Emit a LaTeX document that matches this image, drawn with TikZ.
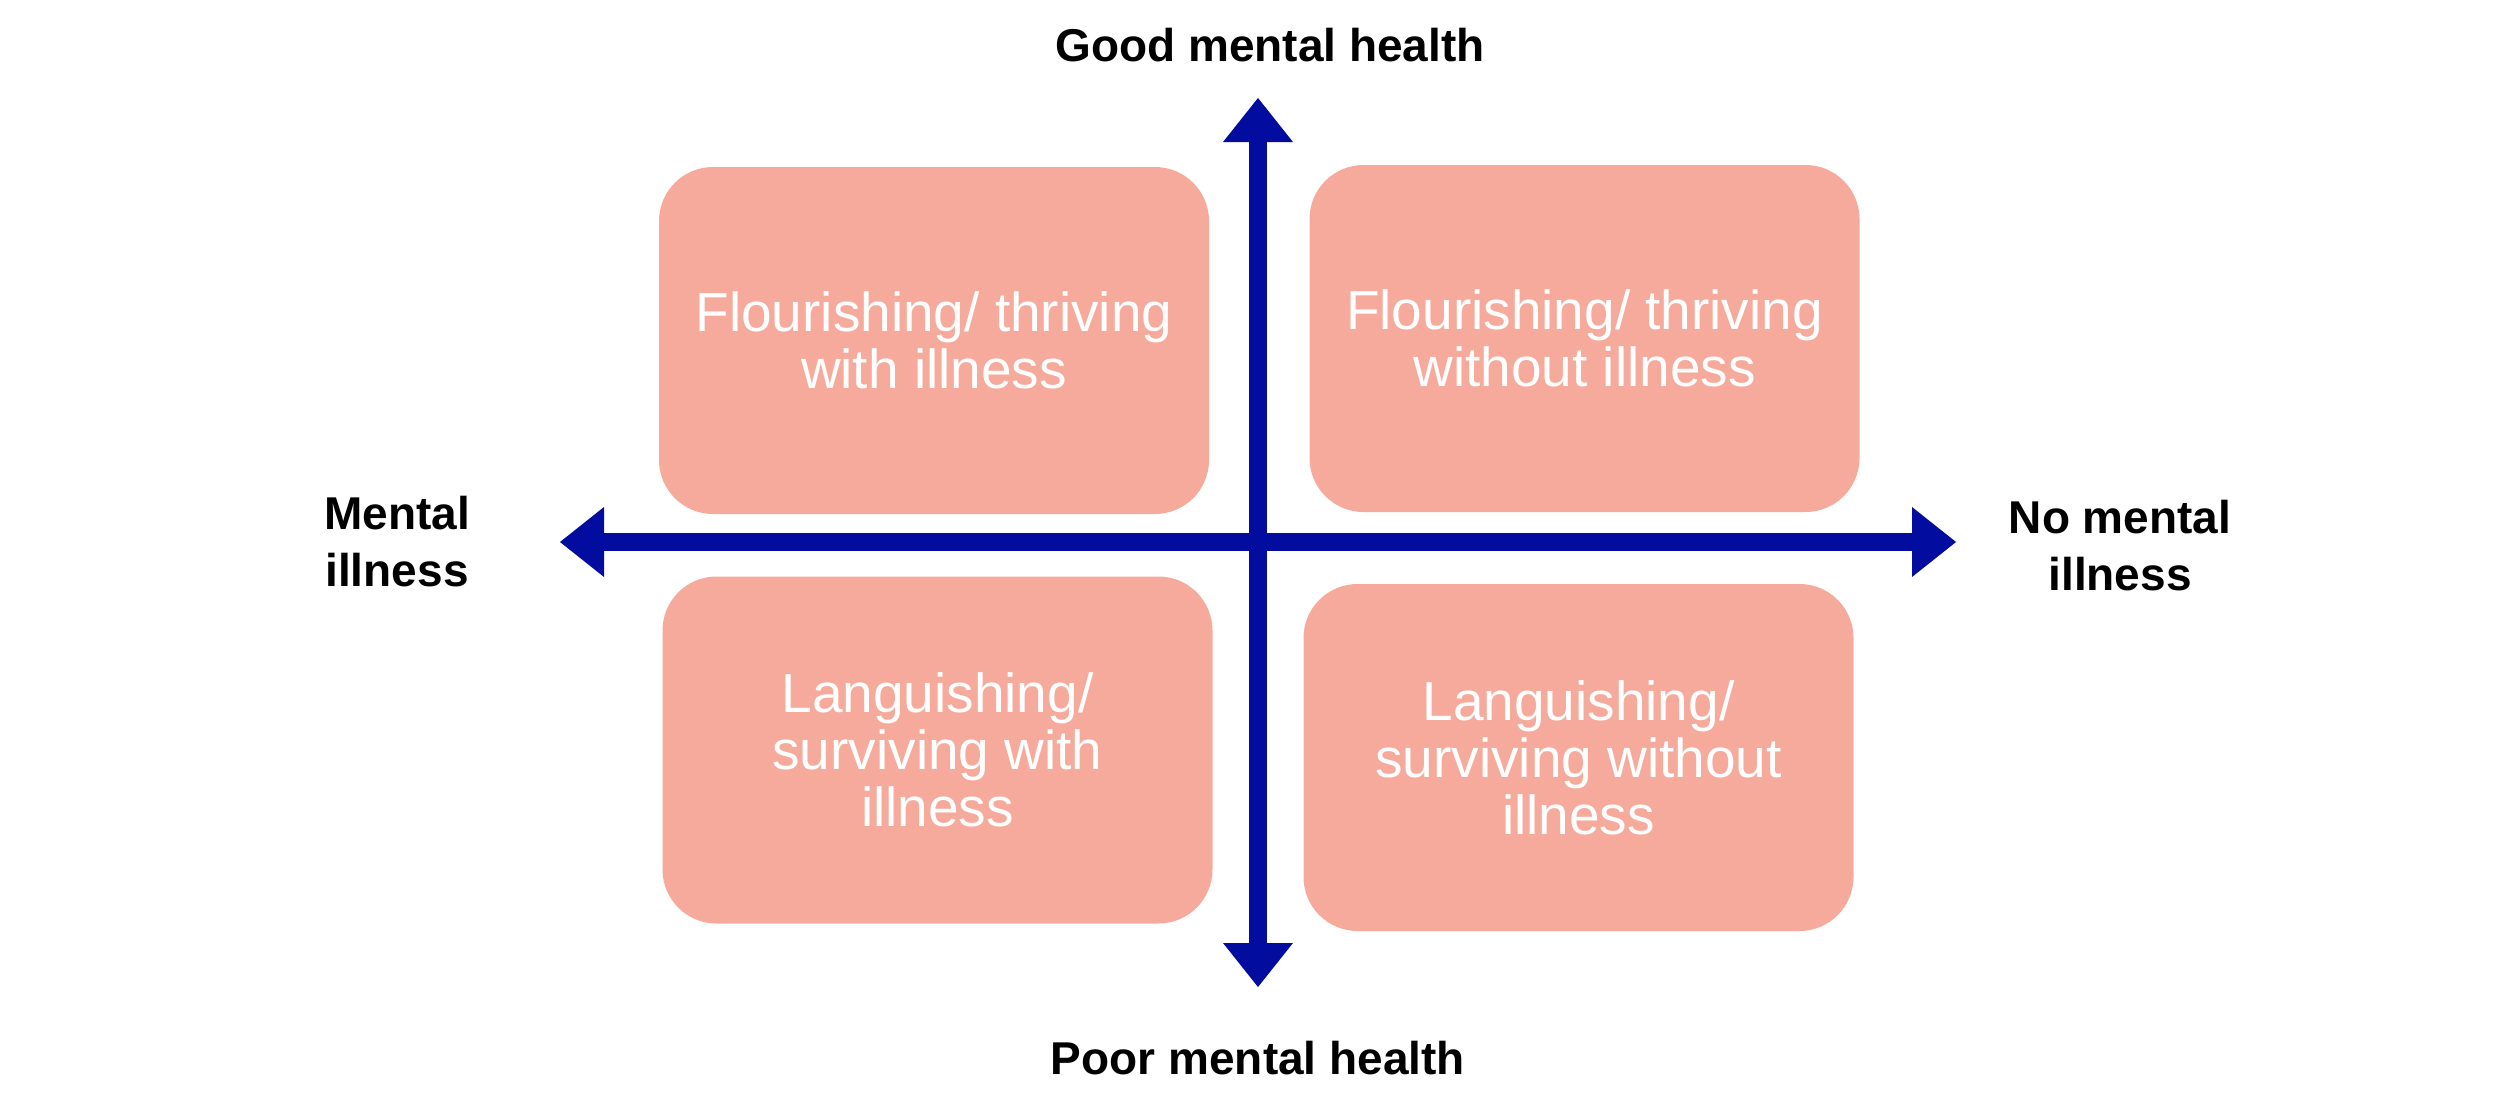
\documentclass[tikz,border=0pt]{standalone}
\usepackage{fontspec}
\setmainfont{Liberation Sans}
\usetikzlibrary{arrows.meta}
\definecolor{boxfill}{HTML}{F6AA9B}
\definecolor{axisblue}{HTML}{020D9F}
\begin{document}
\begin{tikzpicture}[x=1pt,y=-1pt,
  quad/.style={fill=boxfill, rounded corners=54pt, inner sep=0pt, align=center, text=white,
    minimum width=550pt, minimum height=347pt, font=\fontsize{55}{57}\selectfont},
  axislabel/.style={inner sep=0pt, align=center, font=\bfseries\fontsize{46}{57}\selectfont},
  axisline/.style={draw=axisblue, line width=17.5pt,
    {Triangle[length=44pt,width=70pt,line width=0pt]}-{Triangle[length=44pt,width=70pt,line width=0pt]}}]
\useasboundingbox (0,0) rectangle (2516,1116);

% quadrants
\node[quad] (tl) at (934,340.5) {Flourishing/ thriving\\with illness};
\node[quad] (tr) at (1584.5,338.5) {Flourishing/ thriving\\without illness};
\node[quad] (bl) at (937.5,750) {Languishing/\\surviving with\\illness};
\node[quad] (br) at (1578.5,757.5) {Languishing/\\surviving without\\illness};

% axes
\coordinate (west) at (560,542);
\coordinate (east) at (1956,542);
\coordinate (north) at (1258,98);
\coordinate (south) at (1258,987);
\draw[axisline] (west) -- (east);
\draw[axisline] (south) -- (north);

% axis labels
\node[axislabel, anchor=base] (good) at (1270,62) {Good mental health};
\node[axislabel, anchor=base] (poor) at (1258,1074) {Poor mental health};
\node[axislabel] (mi) at (397,541.5) {Mental\\illness};
\node[axislabel] (nmi) at (2120,546) {No mental\\illness};
\end{tikzpicture}
\end{document}
